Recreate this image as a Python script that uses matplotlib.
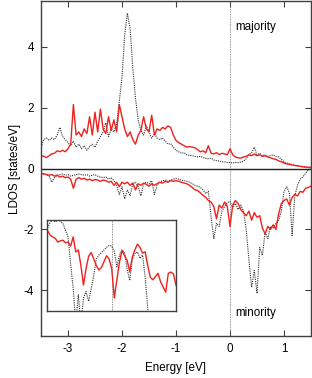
import numpy as np
import matplotlib
matplotlib.use("Agg")
import matplotlib.pyplot as plt

plt.rcParams["font.family"] = ["Liberation Sans", "DejaVu Sans"]
plt.rcParams["axes.unicode_minus"] = False

# energy grid of the main panel (eV), 0.05 eV steps
energy = np.linspace(-3.5, 1.5, 101)

maj_dotted = [
    0.70, 0.95, 1.00, 0.92, 1.00, 0.95, 1.10, 1.35, 1.05, 0.95,
    0.85, 0.75, 0.90, 0.70, 0.80, 0.65, 0.75, 0.60, 0.72, 0.80,
    0.70, 0.90, 1.05, 1.20, 1.50, 1.05, 1.30, 1.20, 1.45, 2.20,
    3.00, 4.40, 5.10, 4.60, 3.30, 2.30, 1.60, 1.25, 1.10, 1.40,
    1.20, 1.00, 1.15, 1.00, 0.95, 1.00, 0.90, 0.80, 0.82, 0.70,
    0.60, 0.55, 0.50, 0.52, 0.45, 0.43, 0.42, 0.40, 0.38, 0.40,
    0.36, 0.33, 0.32, 0.34, 0.28, 0.26, 0.25, 0.22, 0.22, 0.20,
    0.20, 0.18, 0.20, 0.19, 0.21, 0.24, 0.32, 0.45, 0.52, 0.70,
    0.45, 0.50, 0.42, 0.45, 0.40, 0.42, 0.45, 0.40, 0.38, 0.30,
    0.22, 0.18, 0.15, 0.12, 0.10, 0.08, 0.07, 0.05, 0.04, 0.03,
    0.02,
]
maj_red = [
    0.43, 0.40, 0.36, 0.42, 0.48, 0.50, 0.58, 0.55, 0.60, 0.55,
    0.65, 0.80, 2.10, 1.10, 1.20, 1.05, 1.30, 1.15, 1.70, 1.10,
    1.85, 1.20, 1.95, 1.30, 1.15, 1.70, 1.25, 1.60, 1.20, 2.10,
    1.70, 1.30, 1.05, 1.20, 0.95, 0.80, 1.10, 1.25, 1.70, 1.30,
    1.20, 1.75, 1.10, 1.30, 1.25, 1.35, 1.30, 1.40, 1.35, 1.10,
    0.92, 0.85, 0.80, 0.75, 0.70, 0.72, 0.70, 0.68, 0.62, 0.55,
    0.58, 0.52, 0.75, 0.50, 0.48, 0.52, 0.46, 0.50, 0.48, 0.45,
    0.65, 0.45, 0.38, 0.35, 0.34, 0.38, 0.40, 0.45, 0.42, 0.48,
    0.42, 0.45, 0.40, 0.42, 0.38, 0.35, 0.32, 0.30, 0.25, 0.22,
    0.18, 0.15, 0.14, 0.12, 0.10, 0.09, 0.07, 0.06, 0.05, 0.04,
    0.04,
]
min_dotted = [
    -0.15, -0.18, -0.20, -0.25, -0.45, -0.30, -0.22, -0.20, -0.18, -0.22,
    -0.20, -0.25, -0.22, -0.20, -0.18, -0.20, -0.22, -0.20, -0.25, -0.22,
    -0.20, -0.25, -0.28, -0.30, -0.28, -0.35, -0.30, -0.40, -0.55, -0.85,
    -0.60, -1.00, -0.70, -0.90, -0.50, -0.45, -0.60, -0.90, -0.50, -0.45,
    -0.50, -0.40, -0.85, -0.55, -0.45, -0.40, -0.38, -0.42, -0.38, -0.35,
    -0.33, -0.35, -0.38, -0.40, -0.42, -0.45, -0.50, -0.55, -0.58, -0.62,
    -0.70, -0.82, -0.75, -1.60, -2.30, -1.80, -1.90, -1.40, -1.25, -1.12,
    -1.08, -1.30, -1.15, -1.35, -1.20, -1.40, -2.00, -3.00, -3.90, -3.35,
    -4.10, -2.60, -2.85, -2.10, -2.30, -1.90, -1.95, -1.80, -1.70, -1.40,
    -0.75, -0.60, -0.80, -2.20, -0.90, -0.55, -0.35, -0.28, -0.15, -0.05,
    0.00,
]
min_red = [
    -0.18, -0.17, -0.20, -0.22, -0.20, -0.25, -0.22, -0.28, -0.25, -0.30,
    -0.28, -0.35, -0.65, -0.35, -0.30, -0.35, -0.32, -0.38, -0.35, -0.40,
    -0.36, -0.38, -0.42, -0.38, -0.40, -0.45, -0.42, -0.55, -0.45, -0.60,
    -0.45, -0.50, -0.45, -0.55, -0.48, -0.70, -0.50, -0.55, -0.48, -0.52,
    -0.58, -0.50, -0.55, -0.50, -0.45, -0.48, -0.42, -0.45, -0.40, -0.42,
    -0.40, -0.42, -0.45, -0.48, -0.50, -0.55, -0.62, -0.70, -0.72, -0.80,
    -0.88, -0.95, -1.05, -1.10, -1.25, -1.65, -1.20, -1.30, -1.10, -1.25,
    -1.90, -1.20, -1.05, -1.15, -1.35, -1.45, -1.55, -1.40, -1.70, -1.45,
    -1.60, -1.55, -1.95, -2.15, -1.90, -2.00, -1.85, -2.00, -1.50, -1.15,
    -1.05, -1.00, -1.20, -0.95, -0.85, -0.90, -0.75, -0.78, -0.65, -0.62,
    -0.58,
]

# inset: minority channel around E_F, 0.02 eV steps
inset_energy = np.linspace(-0.5, 0.5, 51)
inset_dotted = [
    -0.82, -0.74, -0.70, -0.73, -0.70, -0.72, -0.75, -0.86, -0.96, -1.38,
    -1.75, -2.30, -1.85, -2.30, -1.90, -1.80, -1.95, -1.76, -1.55, -1.30,
    -1.24, -1.20, -1.16, -1.12, -1.09, -1.10, -1.18, -1.42, -1.24, -1.16,
    -1.20, -1.46, -1.63, -1.30, -1.22, -1.19, -1.29, -1.24, -1.58, -2.05,
    -2.50, -2.70, -2.60, -2.80, -2.70, -2.90, -2.60, -2.80, -2.70, -2.60,
    -2.50,
]
inset_red = [
    -0.86, -0.93, -0.96, -0.98, -1.04, -1.02, -1.01, -1.05, -1.04, -1.10,
    -0.96, -1.19, -1.16, -1.40, -1.70, -1.45, -1.26, -1.20, -1.30, -1.40,
    -1.47, -1.43, -1.34, -1.25, -1.30, -1.45, -1.90, -1.62, -1.35, -1.17,
    -1.25, -1.32, -1.50, -1.27, -1.16, -1.07, -1.12, -1.21, -1.19, -1.40,
    -1.58, -1.62, -1.57, -1.52, -1.65, -1.73, -1.81, -1.52, -1.50, -1.53,
    -1.70,
]

RED = "#f0201c"
DOT = "#303030"
FRAME = "#404040"

fig = plt.figure(figsize=(3.12, 3.78), dpi=100)
ax = fig.add_axes([0.1314, 0.1111, 0.8654, 0.8862])

ax.axvline(0, color="#707070", linewidth=0.6, linestyle=(0, (1, 1)))
ax.axhline(0, color="#202020", linewidth=1.0)
ax.plot(energy, maj_dotted, color=DOT, linewidth=0.8, linestyle=(0, (1, 1)))
ax.plot(energy, min_dotted, color=DOT, linewidth=0.8, linestyle=(0, (1, 1)))
ax.plot(energy, maj_red, color=RED, linewidth=1.0)
ax.plot(energy, min_red, color=RED, linewidth=1.0)

ax.set_xlim(-3.5, 1.5)
ax.set_ylim(-5.5, 5.5)
ax.set_xticks([-3, -2, -1, 0, 1])
ax.set_yticks([-4, -2, 0, 2, 4])
ax.tick_params(direction="in", length=4, width=0.8, color=FRAME,
               top=True, right=True, labelsize=8.4, pad=5)
for spine in ax.spines.values():
    spine.set_color(FRAME)
    spine.set_linewidth(1.0)
ax.set_xlabel("Energy [eV]", fontsize=8.4, labelpad=5)
ax.set_ylabel("LDOS [states/eV]", fontsize=8.4, labelpad=2)
ax.text(0.1, 4.65, "majority", fontsize=8.4, va="center", ha="left")
ax.text(0.1, -4.75, "minority", fontsize=8.4, va="center", ha="left")

inset = fig.add_axes([0.1522, 0.1772, 0.4119, 0.2407])
inset.axvline(0, color="#707070", linewidth=0.6, linestyle=(0, (1, 1)))
inset.plot(inset_energy, inset_dotted, color=DOT, linewidth=0.8, linestyle=(0, (1, 1)))
inset.plot(inset_energy, inset_red, color=RED, linewidth=1.0)
inset.set_xlim(-0.5, 0.5)
inset.set_ylim(-2.1, -0.7)
inset.set_xticks([])
inset.set_yticks([])
for spine in inset.spines.values():
    spine.set_color(FRAME)
    spine.set_linewidth(1.0)

fig.savefig("out.png", dpi=100)
